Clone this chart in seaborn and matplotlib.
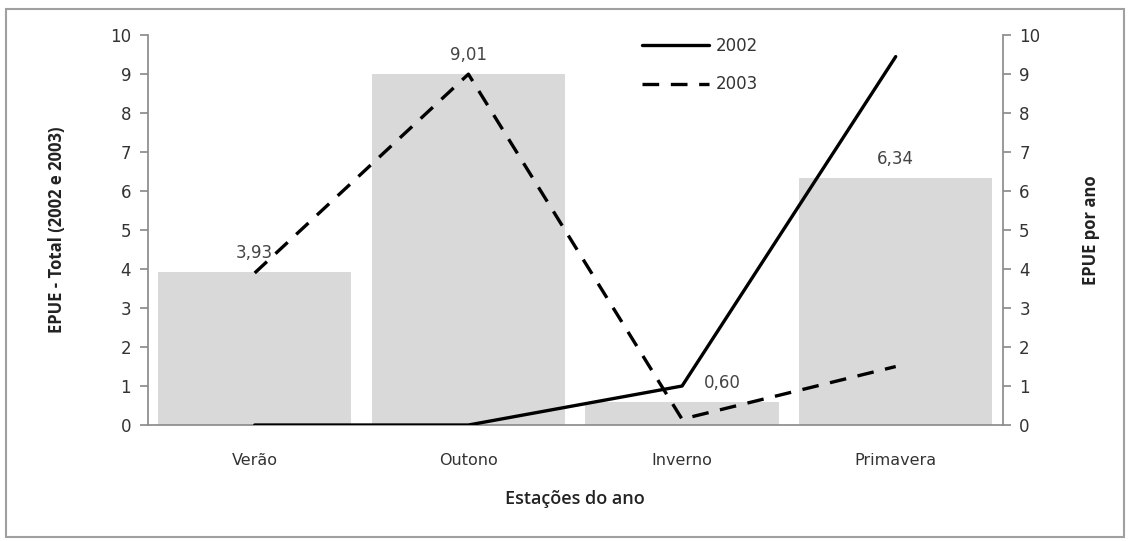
import matplotlib
matplotlib.use("Agg")
import matplotlib.pyplot as plt
import seaborn as sns
import pandas as pd
import numpy as np
from matplotlib.patches import Rectangle
from matplotlib.lines import Line2D

categories = ["Verão", "Outono", "Inverno", "Primavera"]
total_values = [3.93, 9.01, 0.60, 6.34]
total_labels = ["3,93", "9,01", "0,60", "6,34"]
series_2002 = [0.0, 0.0, 1.0, 9.45]
series_2003 = [3.9, 9.0, 0.15, 1.5]
y_ticks = [0, 1, 2, 3, 4, 5, 6, 7, 8, 9, 10]

sns.set_theme(style="white")
plt.rcParams["font.family"] = ["DejaVu Sans"]

fig = plt.figure(figsize=(11.29, 5.41), dpi=100)
ax = fig.add_axes([0.131, 0.2144, 0.757, 0.7206])

bars_df = pd.DataFrame({"Estação": categories, "Total": total_values})
sns.barplot(data=bars_df, x="Estação", y="Total", color="#d9d9d9",
            saturation=1, width=0.905, ax=ax, edgecolor="none")

ax2 = ax.twinx()
lines_df = pd.DataFrame({
    "pos": list(range(len(categories))) * 2,
    "val": series_2002 + series_2003,
    "Ano": ["2002"] * 4 + ["2003"] * 4,
})
sns.lineplot(data=lines_df, x="pos", y="val", style="Ano",
             dashes={"2002": "", "2003": (5, 3.5)}, color="black",
             linewidth=2.4, ax=ax2, legend=False)

for a in (ax, ax2):
    a.set_ylim(0, 10)
    a.set_yticks(y_ticks)
    a.set_xlim(-0.5, 3.5)
ax.set_yticklabels([str(t) for t in y_ticks])
ax2.set_yticklabels([str(t) for t in y_ticks])

grey = "#8c8c8c"
for a in (ax, ax2):
    for s in a.spines.values():
        s.set_visible(False)
ax.spines["left"].set_visible(True)
ax.spines["left"].set_color(grey)
ax.spines["bottom"].set_visible(True)
ax.spines["bottom"].set_color(grey)
ax2.spines["right"].set_visible(True)
ax2.spines["right"].set_color(grey)

ax.tick_params(axis="y", left=True, length=6, color=grey, labelsize=12,
               labelcolor="#333333", pad=6)
ax2.tick_params(axis="y", right=True, length=6, color=grey, labelsize=12,
                labelcolor="#333333", pad=6)
ax.tick_params(axis="x", bottom=False, labelsize=11.5, labelcolor="#333333", pad=14)

ax.set_xlabel("Estações do ano", fontsize=13, fontweight="semibold",
              color="#222222", family="Open Sans", labelpad=16)
ax.set_ylabel("EPUE - Total (2002 e 2003)", fontsize=12, fontweight="bold",
              color="#222222", family="Open Sans", labelpad=32)
ax2.set_ylabel("EPUE por ano", fontsize=12, fontweight="bold",
               color="#222222", family="Open Sans", labelpad=30)
ax2.set_xlabel("")

offsets = [(0, 0), (0, 0), (0.19, 0), (0, 0)]
for i, (v, t) in enumerate(zip(total_values, total_labels)):
    ax.annotate(t, xy=(i + offsets[i][0], v), xytext=(0, 7),
                textcoords="offset points", ha="center", va="bottom",
                fontsize=12, color="#444444")

handles = [Line2D([0], [0], color="black", lw=2.4),
           Line2D([0], [0], color="black", lw=2.4, dashes=(5, 3.5))]
ax2.legend(handles, ["2002", "2003"], loc="upper left",
           bbox_to_anchor=(0.561, 1.035), frameon=False, fontsize=12,
           handlelength=4.0, labelspacing=1.25, handletextpad=0.4,
           labelcolor="#333333")

fig.patches.append(Rectangle((6 / 1129, 4 / 541), 1118 / 1129, 528 / 541,
                             transform=fig.transFigure, fill=False,
                             edgecolor="#a0a0a0", linewidth=1.5))

fig.savefig("out.png", dpi=100)
